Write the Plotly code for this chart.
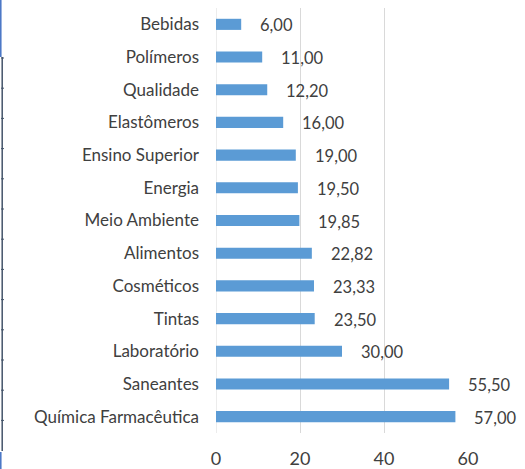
import plotly.graph_objects as go

# Setores e valores (de cima para baixo no gráfico)
setores = [
    "Bebidas", "Polímeros", "Qualidade", "Elastômeros", "Ensino Superior",
    "Energia", "Meio Ambiente", "Alimentos", "Cosméticos", "Tintas",
    "Laboratório", "Saneantes", "Química Farmacêutica",
]
valores = [6.00, 11.00, 12.20, 16.00, 19.00, 19.50, 19.85, 22.82, 23.33,
           23.50, 30.00, 55.50, 57.00]
x_ticks = [0, 20, 40, 60]

BAR_COLOR = "#5B9BD5"
TEXT_COLOR = "#404040"
GRID_COLOR = "#D9D9D9"
FONT = "Lato"


def fmt_br(v):
    return f"{v:.2f}".replace(".", ",")


fig = go.Figure(
    go.Bar(
        x=valores,
        y=setores,
        orientation="h",
        marker=dict(color=BAR_COLOR, line=dict(width=0)),
        width=0.34,
        hoverinfo="skip",
    )
)

# Linha de grade em x = 0 (borda esquerda da área do gráfico)
fig.add_shape(type="line", xref="x", yref="paper", x0=0, x1=0, y0=0, y1=1,
              line=dict(color=GRID_COLOR, width=1), layer="below")

# Rótulos de valor à direita de cada barra
for s, v in zip(setores, valores):
    fig.add_annotation(
        x=v, y=s, text=fmt_br(v), showarrow=False,
        xanchor="left", yanchor="middle", xshift=17, yshift=-1,
        font=dict(family=FONT, size=16.5, color=TEXT_COLOR),
    )

# Borda azul à esquerda da página
edge = dict(xref="paper", yref="paper", layer="above")
px_x = lambda p: (p - 216) / 252
px_y = lambda p: (433 - p) / 425
fig.add_shape(type="line", x0=px_x(0.8), x1=px_x(0.8), y0=px_y(0), y1=px_y(57),
              line=dict(color="#4472C4", width=1.5), **edge)
fig.add_shape(type="line", x0=px_x(2.2), x1=px_x(2.2), y0=px_y(57), y1=px_y(451),
              line=dict(color="#44546A", width=1.5), **edge)
fig.add_shape(type="line", x0=px_x(0.8), x1=px_x(0.8), y0=px_y(452), y1=px_y(469),
              line=dict(color="#4472C4", width=1.5), **edge)
for k in range(13):
    yy = 58 + 30.2 * k
    fig.add_shape(type="line", x0=px_x(1), x1=px_x(4), y0=px_y(yy), y1=px_y(yy),
                  line=dict(color="#44546A", width=1), **edge)

fig.update_layout(
    width=525, height=469,
    margin=dict(l=216, r=57, t=8, b=36),
    paper_bgcolor="white", plot_bgcolor="white",
    showlegend=False,
    font=dict(family=FONT, color=TEXT_COLOR),
    xaxis=dict(
        range=[0, 60], tickvals=x_ticks, ticktext=[str(t) for t in x_ticks],
        showgrid=True, gridcolor=GRID_COLOR, gridwidth=1,
        zeroline=False, showline=False, ticks="",
        tickfont=dict(family=FONT, size=18, color=TEXT_COLOR),
        ticklabelstandoff=13, automargin=False, fixedrange=True,
    ),
    yaxis=dict(
        categoryorder="array", categoryarray=setores, autorange="reversed",
        showgrid=False, zeroline=False, showline=False, ticks="",
        tickfont=dict(family=FONT, size=17, color=TEXT_COLOR),
        ticklabelstandoff=16, automargin=False, fixedrange=True,
    ),
)

fig.write_html("out.html")
